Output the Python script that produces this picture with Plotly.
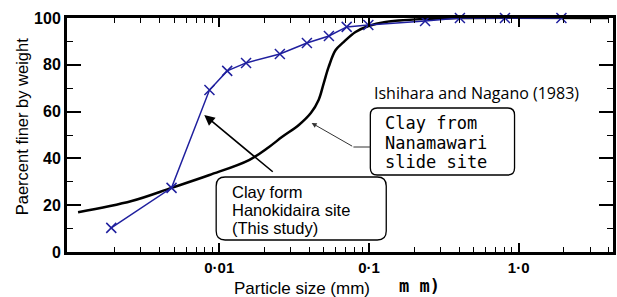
import plotly.graph_objects as go

# ---- data ----
nanamawari_size = [0.00114, 0.0026, 0.0048, 0.0086, 0.0158, 0.0215, 0.0262, 0.034, 0.0409,
                   0.0461, 0.0499, 0.0538, 0.0599, 0.0677, 0.0813, 0.0993, 0.129, 0.237, 0.4, 4.0]
nanamawari_pct = [17.0, 21.8, 27.4, 32.9, 39.3, 44.9, 49.1, 54.3, 59.4,
                  65.0, 72.2, 79.1, 86.3, 89.7, 94.0, 96.6, 98.3, 99.6, 100, 100]

hanokidaira_size = [0.0019, 0.0048, 0.0086, 0.0113, 0.0151, 0.0254, 0.0385, 0.054,
                    0.071, 0.099, 0.237, 0.405, 0.81, 1.93]
hanokidaira_pct = [10.3, 27.4, 69.2, 77.4, 80.8, 84.6, 89.3, 92.3,
                   96.2, 97.0, 98.7, 100, 100, 100]

x_tickvals = [0.01, 0.1, 1.0]
x_ticktext = ["0·01", "0·1", "1·0"]
y_tickvals = [0, 20, 40, 60, 80, 100]

box1_lines = ["Clay from", "Nanamawari", "slide site"]
box2_lines = ["Clay form", "Hanokidaira site", "(This study)"]
source_text = "Ishihara and Nagano (1983)"

BLUE = "#1f1f9e"

fig = go.Figure()
fig.add_trace(go.Scatter(
    x=nanamawari_size, y=nanamawari_pct, mode="lines",
    line=dict(color="black", width=2.5, shape="spline", smoothing=1.0),
    cliponaxis=False, showlegend=False))
fig.add_trace(go.Scatter(
    x=hanokidaira_size, y=hanokidaira_pct, mode="lines+markers",
    line=dict(color=BLUE, width=1.5),
    marker=dict(symbol="x-thin", size=10, line=dict(color=BLUE, width=1.5)),
    cliponaxis=False, showlegend=False))

minor_x = [k * 10 ** d for d in (-3, -2, -1, 0) for k in range(2, 10)]

fig.update_xaxes(
    type="log", range=[-3.017, 0.63],
    tickvals=x_tickvals, ticktext=x_ticktext,
    ticks="inside", ticklen=9, tickwidth=1.5, tickcolor="black",
    showline=True, linewidth=3, linecolor="black", mirror="allticks",
    showgrid=False, zeroline=False,
    tickfont=dict(family="Liberation Sans", size=15, color="black", weight="bold"),
    minor=dict(tickvals=minor_x, ticks="inside", ticklen=5, tickwidth=1.2,
               tickcolor="black", showgrid=False),
)
fig.update_yaxes(
    range=[0, 100], tickvals=y_tickvals,
    ticks="inside", ticklen=14, tickwidth=1.5, tickcolor="black",
    showline=True, linewidth=3, linecolor="black", mirror="allticks",
    showgrid=False, zeroline=False,
    tickfont=dict(family="Liberation Sans", size=16, color="black", weight="bold"),
    minor=dict(dtick=10, ticks="inside", ticklen=6, tickwidth=1.2,
               tickcolor="black", showgrid=False),
)

# plot area in pixels: x 67..616, y 18..252
L, R, T, B = 67, 616, 18, 252
W, H = R - L, B - T


def px(x):
    return (x - L) / W


def py(y):
    return (B - y) / H


annotations = []
# axis titles
annotations.append(dict(xref="paper", yref="paper", x=px(22), y=py(127), text="Paercent finer by weight",
                        textangle=-90, showarrow=False, xanchor="center", yanchor="middle",
                        font=dict(family="Liberation Sans", size=16.5, color="black")))
annotations.append(dict(xref="paper", yref="paper", x=px(233), y=py(288), text="Particle size (mm)",
                        showarrow=False, xanchor="left", yanchor="middle",
                        font=dict(family="Liberation Sans", size=17, color="black")))
annotations.append(dict(xref="paper", yref="paper", x=px(399), y=py(286), text="m m)",
                        showarrow=False, xanchor="left", yanchor="middle",
                        font=dict(family="DejaVu Sans Mono", size=17, color="black", weight="bold")))
# source label
annotations.append(dict(xref="paper", yref="paper", x=px(374), y=py(93), text=source_text,
                        showarrow=False, xanchor="left", yanchor="middle",
                        font=dict(family="Open Sans", size=16, color="black")))
# box 1 text (typewriter)
for txt, yy in zip(box1_lines, [123, 143, 162]):
    annotations.append(dict(xref="paper", yref="paper", x=px(385), y=py(yy), text=txt,
                            showarrow=False, xanchor="left", yanchor="middle",
                            font=dict(family="DejaVu Sans Mono", size=17, color="black")))
# box 2 text
for txt, yy in zip(box2_lines, [192, 210, 228]):
    annotations.append(dict(xref="paper", yref="paper", x=px(231), y=py(yy), text=txt,
                            showarrow=False, xanchor="left", yanchor="middle",
                            font=dict(family="Liberation Sans", size=16.5, color="black")))
# arrows
annotations.append(dict(xref="paper", yref="paper", x=px(205), y=py(115), ax=70, ay=58,
                        text="", showarrow=True, arrowhead=2, arrowsize=1.3, arrowwidth=1.6,
                        arrowcolor="black"))
annotations.append(dict(xref="paper", yref="paper", x=px(313), y=py(123), ax=42, ay=24,
                        text="", showarrow=True, arrowhead=2, arrowsize=1.0, arrowwidth=1.0,
                        arrowcolor="#333333"))


def rounded_rect(x0, y0, x1, y1, r):
    # pixel coordinates -> paper path with rounded corners
    def P(x, y):
        return f"{px(x):.5f},{py(y):.5f}"
    return (f"M {P(x0 + r, y0)} L {P(x1 - r, y0)} Q {P(x1, y0)} {P(x1, y0 + r)} "
            f"L {P(x1, y1 - r)} Q {P(x1, y1)} {P(x1 - r, y1)} "
            f"L {P(x0 + r, y1)} Q {P(x0, y1)} {P(x0, y1 - r)} "
            f"L {P(x0, y0 + r)} Q {P(x0, y0)} {P(x0 + r, y0)} Z")


shapes = [
    dict(type="path", xref="paper", yref="paper", path=rounded_rect(372, 108, 517, 175, 7),
         line=dict(color="black", width=1.3)),
    dict(type="path", xref="paper", yref="paper", path=rounded_rect(217, 177, 388, 240, 9),
         line=dict(color="black", width=1.3)),
    dict(type="line", xref="paper", yref="paper", x0=px(355), y0=py(147), x1=px(372), y1=py(147),
         line=dict(color="#333333", width=1.0)),
]

fig.update_layout(
    width=617, height=297,
    margin=dict(l=L, r=617 - R, t=T, b=297 - B),
    paper_bgcolor="white", plot_bgcolor="white",
    annotations=annotations, shapes=shapes,
    showlegend=False,
)

fig.write_html("out.html", config={"displayModeBar": False},
               post_script="document.body.style.margin='0';")
